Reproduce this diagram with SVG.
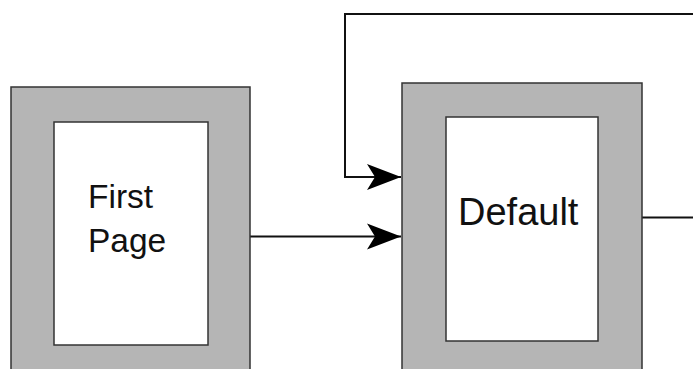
<svg xmlns="http://www.w3.org/2000/svg" width="693" height="369" viewBox="0 0 693 369">
<style>
.outer{fill:#b5b5b5;stroke:#333;stroke-width:1.5}
.inner{fill:#fff;stroke:#333;stroke-width:1.5}
.lbl{font-family:"Liberation Sans",Arial,sans-serif;fill:#111}
.conn{fill:none;stroke:#111;stroke-width:2}
</style>
<defs>
<marker id="ah" markerUnits="userSpaceOnUse" markerWidth="36" markerHeight="28" refX="34" refY="13" orient="auto" viewBox="0 0 36 26">
<path d="M34,13 L0,0 L8,13 L0,26 Z" fill="#000"/>
</marker>
</defs>
<rect width="693" height="369" fill="#fff"/>
<g id="connectors">
<path class="conn" d="M693,14 H345 V177 H401" marker-end="url(#ah)"/>
<path class="conn" d="M250,236.5 H401" marker-end="url(#ah)"/>
<path class="conn" d="M642,217.5 H693"/>
</g>
<g id="first-page">
<rect class="outer" x="11" y="87" width="239" height="300"/>
<rect class="inner" x="54" y="122" width="154" height="223"/>
<text class="lbl" font-size="33.5" x="88" y="208">First</text>
<text class="lbl" font-size="33.5" x="88" y="252">Page</text>
</g>
<g id="default">
<rect class="outer" x="402" y="83" width="240" height="300"/>
<rect class="inner" x="446" y="117" width="152" height="224"/>
<text class="lbl" font-size="38" x="458" y="225">Default</text>
</g>
</svg>
